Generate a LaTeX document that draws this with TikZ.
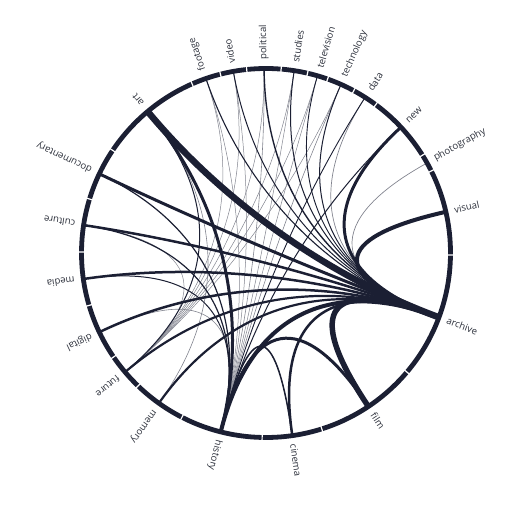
\documentclass[tikz,border=0pt]{standalone}
\usepackage{fontspec}
\setmainfont{Open Sans}
\usetikzlibrary{calc}
\definecolor{navy}{HTML}{1B1F33}
\definecolor{lblc}{HTML}{2C303B}
\newcommand\chordto[3]{\draw[line width=#3pt] (#1) .. controls ($(#1)!0.64!(O)$) and ($(#2)!0.64!(O)$) .. (#2);}
\begin{document}
\begin{tikzpicture}[
  lbltext/.style={anchor=west, inner sep=0pt, font=\fontsize{9.6}{10}\selectfont, text=lblc},
  thickchord/.style={draw=navy},
  thinchord/.style={draw=navy!55},
]
\useasboundingbox (0,0) rectangle (512pt,512pt);
\coordinate (O) at (266pt,259pt);
\foreach \n/\a in {art/129.9, footage/109, video/100.2, political/90.6, studies/81.2,
  television/73.8, technology/66, data/57.5, new/43, photography/29.2, visual/12.9,
  archive/-20.4, film/-56.3, cinema/-81.8, history/-104.2, memory/-125.5, future/-139.8,
  digital/-154.6, media/188.1, culture/171.3, documentary/154.6}{
  \coordinate (\n) at ($(O)+(\a:183pt)$);
  \node[lbltext, rotate=\a] (l-\n) at ($(O)+(\a:193pt)$) {\n};
}
% thin chords
\begin{scope}[thinchord]
\foreach \s/\t/\w in {history/footage/0.5, history/video/0.5, history/political/0.6,
  history/studies/0.5, history/television/0.5, history/technology/0.6, history/digital/0.6,
  future/footage/0.5, future/video/0.5, future/political/0.5, future/studies/0.5,
  future/television/0.5, future/technology/0.5, future/culture/0.5,
  archive/photography/0.7, archive/data/0.7, art/memory/0.6, cinema/history/0.6}{
  \chordto{\s}{\t}{\w}
}
\end{scope}
% thick chords
\begin{scope}[thickchord]
\foreach \s/\t/\w in {archive/footage/1.1, archive/video/1, archive/political/1.4,
  archive/studies/1, archive/television/0.9, archive/technology/1,
  history/new/1, history/data/0.9, history/documentary/1.2, history/culture/1.2,
  history/media/1, art/future/1, cinema/history/1.5,
  archive/documentary/3, archive/culture/2.5, archive/media/2.5, archive/digital/2.5,
  archive/future/2.2, archive/memory/2.2, archive/cinema/2.5, archive/history/4,
  history/art/3, history/film/3, archive/new/3, archive/visual/4, archive/film/5.5,
  archive/art/6.5}{
  \chordto{\s}{\t}{\w}
}
\end{scope}
% ring
\draw[navy, line width=4.8pt] (O) circle[radius=184.5pt];
\foreach \g in {146.2,113.6,104.3,96,85.3,77,70.5,61.6,53.5,32,26.4,-0.6,-40.2,-72.4,
  -91.2,-117.1,-133.9,-145.7,-163.5,179.7,163}{
  \draw[white, line width=1.2pt] ($(O)+(\g:181pt)$) -- ($(O)+(\g:188pt)$);
}
\end{tikzpicture}
\end{document}
